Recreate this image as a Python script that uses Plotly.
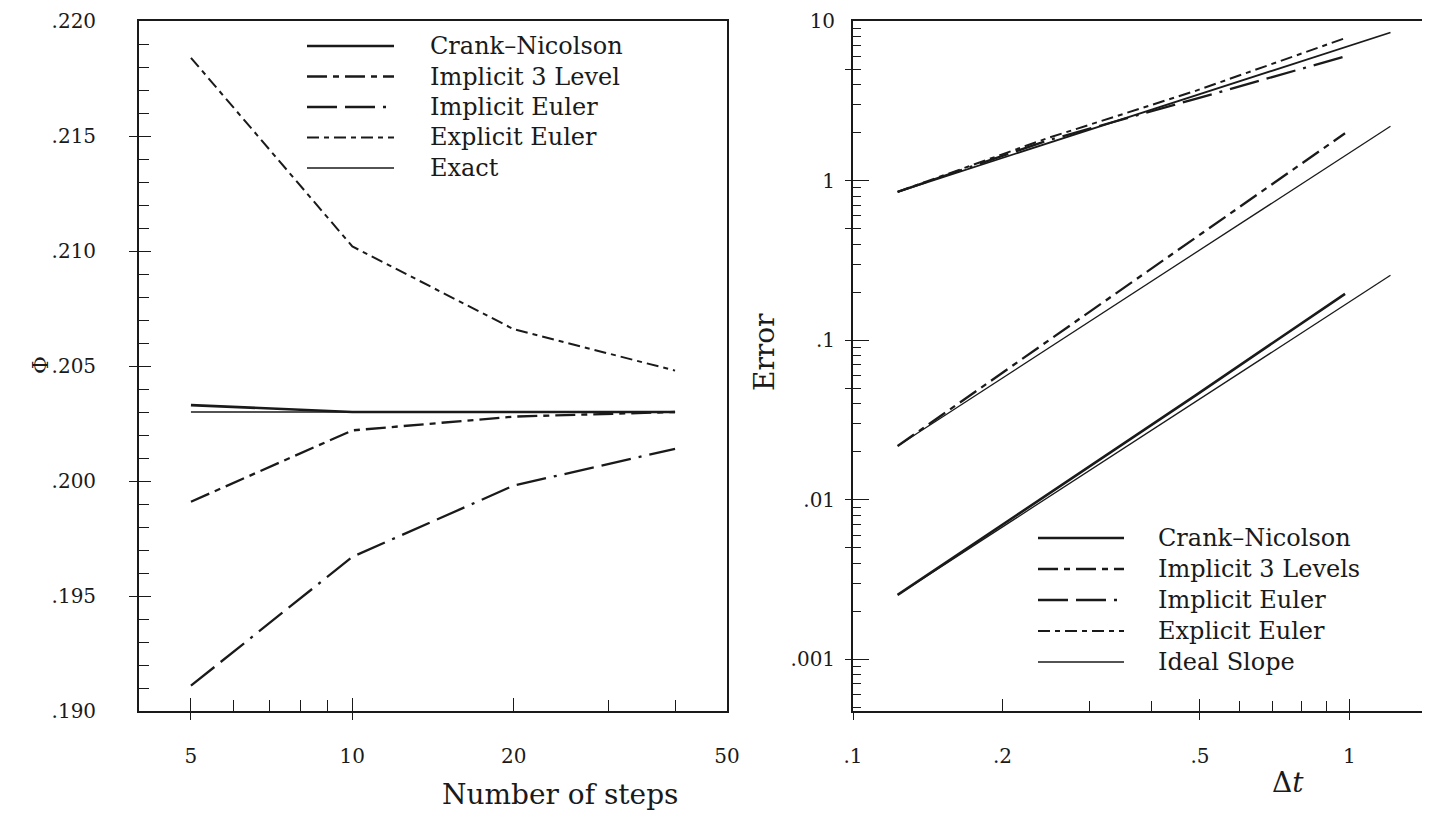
import math
import plotly.graph_objects as go

# ---------------- data ----------------
steps = [5, 10, 20, 40]
phi_crank_nicolson = [0.2033, 0.2030, 0.2030, 0.2030]
phi_implicit_3level = [0.1991, 0.2022, 0.2028, 0.2030]
phi_implicit_euler = [0.1911, 0.1967, 0.1998, 0.2014]
phi_explicit_euler = [0.2184, 0.2102, 0.2066, 0.2048]
phi_exact = [0.2030, 0.2030, 0.2030, 0.2030]

dt = [0.123, 0.246, 0.49, 0.98]
err_crank_nicolson = [0.00253, 0.0107, 0.0451, 0.195]
err_implicit_3levels = [0.0217, 0.098, 0.44, 1.98]
err_implicit_euler = [0.85, 1.78, 3.25, 6.0]
err_explicit_euler = [0.85, 1.84, 3.65, 7.8]
dt_ideal = [0.123, 1.21]
ideal_first_order = [0.85, 8.47]
ideal_second_order_a = [0.0217, 2.19]
ideal_second_order_b = [0.00253, 0.255]

left_names = ["Crank\u2013Nicolson", "Implicit 3 Level", "Implicit Euler", "Explicit Euler", "Exact"]
right_names = ["Crank\u2013Nicolson", "Implicit 3 Levels", "Implicit Euler", "Explicit Euler", "Ideal Slope"]

phi_ticks = [0.190, 0.195, 0.200, 0.205, 0.210, 0.215, 0.220]
phi_ticktext = [".190", ".195", ".200", ".205", ".210", ".215", ".220"]
steps_ticks = [5, 10, 20, 50]
steps_ticktext = ["5", "10", "20", "50"]
steps_minor = [6, 7, 8, 9, 30, 40]
err_ticks = [0.001, 0.01, 0.1, 1, 10]
err_ticktext = [".001", ".01", ".1", "1", "10"]
err_minor = [m * 10.0 ** e for e in range(-4, 1) for m in range(2, 10)]
dt_ticks = [0.1, 0.2, 0.5, 1]
dt_ticktext = [".1", ".2", ".5", "1"]
dt_minor = [0.3, 0.4, 0.6, 0.7, 0.8, 0.9]

# ---------------- styling ----------------
# the page body has an 8px margin, so the figure starts 8px in from the top-left corner
OFF = 8
W, H = 1430 - OFF, 815 - OFF
INK = "#1a1a1a"
FONT = "DejaVu Serif"


def px(x):
    return (x - OFF) / W


def py(y):
    return 1 - (y - OFF) / H


STY = {
    "cn": dict(width=2.6, dash="solid"),
    "i3": dict(width=2.3, dash="20px,6px,6px,6px"),
    "ie": dict(width=2.3, dash="30px,8px,30px,8px,3px,8px"),
    "ee": dict(width=2.0, dash="12px,5px,5px,5px"),
    "ex": dict(width=1.3, dash="solid"),
}

fig = go.Figure()


def add_line(x, y, sty, xa, ya, name):
    fig.add_trace(go.Scatter(x=x, y=y, mode="lines", name=name, xaxis=xa, yaxis=ya,
                             line=dict(color=INK, width=sty["width"], dash=sty["dash"]),
                             hoverinfo="x+y+name"))


# left panel
add_line(steps, phi_exact, STY["ex"], "x", "y", left_names[4])
add_line(steps, phi_crank_nicolson, STY["cn"], "x", "y", left_names[0])
add_line(steps, phi_implicit_3level, STY["i3"], "x", "y", left_names[1])
add_line(steps, phi_implicit_euler, STY["ie"], "x", "y", left_names[2])
add_line(steps, phi_explicit_euler, STY["ee"], "x", "y", left_names[3])

# right panel
add_line(dt_ideal, ideal_first_order, dict(width=1.8, dash="solid"), "x2", "y2", right_names[4])
add_line(dt_ideal, ideal_second_order_a, STY["ex"], "x2", "y2", right_names[4])
add_line(dt_ideal, ideal_second_order_b, STY["ex"], "x2", "y2", right_names[4])
add_line(dt, err_crank_nicolson, STY["cn"], "x2", "y2", right_names[0])
add_line(dt, err_implicit_3levels, STY["i3"], "x2", "y2", right_names[1])
add_line(dt, err_implicit_euler, STY["ie"], "x2", "y2", right_names[2])
add_line(dt, err_explicit_euler, STY["ee"], "x2", "y2", right_names[3])

# empty helper traces so the overlay axes (crossing tick marks) are drawn
for xa, ya in [("x3", "y"), ("x", "y3"), ("x4", "y2"), ("x2", "y4")]:
    fig.add_trace(go.Scatter(x=[], y=[], xaxis=xa, yaxis=ya, showlegend=False, hoverinfo="skip"))

LX = [px(139), px(727)]
RX = [px(853), px(1428)]
YD = [py(711), py(21)]

x_left_range = [math.log10(4), math.log10(50)]
y_left_range = [0.190, 0.220]
x_right_range = [math.log10(0.1), math.log10(1.44)]
y_right_range = [math.log10(0.000474), 1]

tickfont = dict(family=FONT, size=20, color=INK)
frame = dict(showline=True, linecolor=INK, linewidth=1.8, mirror=True, showgrid=False,
             zeroline=False, automargin=False, ticklabeloverflow="allow")
overlay = dict(showticklabels=False, showline=False, showgrid=False, zeroline=False,
               automargin=False, tickcolor=INK, tickwidth=1.4)

fig.update_layout(
    template="none",
    width=W, height=H, margin=dict(l=0, r=0, t=0, b=0, pad=0),
    paper_bgcolor="white", plot_bgcolor="white", showlegend=False,
    font=dict(family=FONT, color=INK),
    xaxis=dict(domain=LX, anchor="y", type="log", range=x_left_range,
               tickmode="array", tickvals=steps_ticks, ticktext=steps_ticktext,
               ticks="inside", ticklen=13, tickwidth=1.4, tickcolor=INK, tickfont=tickfont,
               ticklabelstandoff=26,
               minor=dict(tickmode="array", tickvals=steps_minor, ticks="inside", ticklen=11,
                          tickwidth=1.3, tickcolor=INK),
               **frame),
    yaxis=dict(domain=YD, anchor="x", range=y_left_range,
               tickmode="array", tickvals=phi_ticks, ticktext=phi_ticktext,
               ticks="inside", ticklen=12, tickwidth=1.4, tickcolor=INK, tickfont=tickfont,
               ticklabelstandoff=37,
               minor=dict(dtick=0.001, ticks="inside", ticklen=10, tickwidth=1.3, tickcolor=INK),
               **frame),
    xaxis3=dict(overlaying="x", anchor="y", type="log", range=x_left_range, side="bottom",
                tickmode="array", tickvals=[5, 10], ticks="outside", ticklen=8, **overlay),
    yaxis3=dict(overlaying="y", anchor="x", range=y_left_range, side="left",
                tickmode="array", tickvals=[0.195, 0.200, 0.205, 0.210, 0.215], ticks="outside",
                ticklen=9, **overlay),
    xaxis2=dict(domain=RX, anchor="y2", type="log", range=x_right_range,
                tickmode="array", tickvals=dt_ticks, ticktext=dt_ticktext,
                ticks="inside", ticklen=12, tickwidth=1.4, tickcolor=INK, tickfont=tickfont,
                ticklabelstandoff=26,
                minor=dict(tickmode="array", tickvals=dt_minor, ticks="inside", ticklen=10,
                           tickwidth=1.3, tickcolor=INK),
                **frame),
    yaxis2=dict(domain=YD, anchor="x2", type="log", range=y_right_range,
                tickmode="array", tickvals=err_ticks, ticktext=err_ticktext,
                ticks="inside", ticklen=16, tickwidth=1.4, tickcolor=INK, tickfont=tickfont,
                ticklabelstandoff=12,
                minor=dict(tickmode="array", tickvals=err_minor, ticks="inside", ticklen=8,
                           tickwidth=1.3, tickcolor=INK),
                **frame),
    xaxis4=dict(overlaying="x2", anchor="y2", type="log", range=x_right_range, side="bottom",
                tickmode="array", tickvals=[0.1, 0.5, 1], ticks="outside", ticklen=8, **overlay),
    yaxis4=dict(overlaying="y2", anchor="x2", type="log", range=y_right_range, side="left",
                tickmode="array", tickvals=[5, 1, 0.5, 0.1, 0.05, 0.01, 0.005, 0.001],
                ticks="outside", ticklen=7, **overlay),
)

# ---------------- manual legends ----------------
shapes = []
annotations = []
leg_font = dict(family=FONT, size=24, color=INK)
left_leg_styles = [STY["cn"], STY["i3"], STY["ie"], STY["ee"], STY["ex"]]
for i, (name, sty) in enumerate(zip(left_names, left_leg_styles)):
    yy = 46 + i * 30.5
    shapes.append(dict(type="line", xref="paper", yref="paper", x0=px(307), x1=px(394),
                       y0=py(yy), y1=py(yy), line=dict(color=INK, width=sty["width"], dash=sty["dash"])))
    annotations.append(dict(xref="paper", yref="paper", x=px(428), y=py(yy), text=name,
                            showarrow=False, xanchor="left", yanchor="middle", font=leg_font))
right_leg_styles = [STY["cn"], STY["i3"], STY["ie"], STY["ee"], STY["ex"]]
for i, (name, sty) in enumerate(zip(right_names, right_leg_styles)):
    yy = 538 + i * 31
    shapes.append(dict(type="line", xref="paper", yref="paper", x0=px(1038), x1=px(1124),
                       y0=py(yy), y1=py(yy), line=dict(color=INK, width=sty["width"], dash=sty["dash"])))
    annotations.append(dict(xref="paper", yref="paper", x=px(1156), y=py(yy), text=name,
                            showarrow=False, xanchor="left", yanchor="middle", font=leg_font))

title_font = dict(family=FONT, size=28, color=INK)
annotations += [
    dict(xref="paper", yref="paper", x=px(40), y=py(365), text="\u03a6", textangle=-90,
         showarrow=False, xanchor="center", yanchor="middle", font=dict(family=FONT, size=22, color=INK)),
    dict(xref="paper", yref="paper", x=px(560), y=py(794), text="Number of steps",
         showarrow=False, xanchor="center", yanchor="middle", font=title_font),
    dict(xref="paper", yref="paper", x=px(764), y=py(352), text="Error", textangle=-90,
         showarrow=False, xanchor="center", yanchor="middle", font=title_font),
    dict(xref="paper", yref="paper", x=px(1288), y=py(782), text="\u0394<i>t</i>",
         showarrow=False, xanchor="center", yanchor="middle", font=title_font),
]
fig.update_layout(shapes=shapes, annotations=annotations)

fig.write_html("out.html")
